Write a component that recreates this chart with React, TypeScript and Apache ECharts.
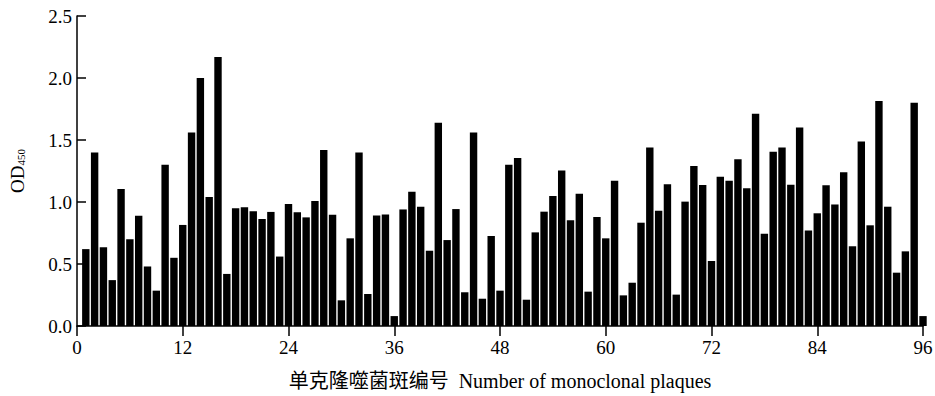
import React, { useEffect, useRef } from "react";
import * as echarts from "echarts";

const plaqueIds: number[] = Array.from({ length: 96 }, (_, i) => i + 1);
const odValues: number[] = [
  0.62, 1.40, 0.635, 0.37, 1.105, 0.70, 0.89, 0.48, 0.285, 1.30,
  0.55, 0.815, 1.56, 2.00, 1.04, 2.17, 0.42, 0.95, 0.957, 0.925,
  0.863, 0.92, 0.56, 0.984, 0.917, 0.876, 1.008, 1.42, 0.898, 0.207,
  0.707, 1.40, 0.258, 0.892, 0.90, 0.08, 0.94, 1.083, 0.962, 0.607,
  1.64, 0.693, 0.943, 0.272, 1.56, 0.22, 0.726, 0.285, 1.30, 1.355,
  0.212, 0.755, 0.922, 1.048, 1.255, 0.852, 1.067, 0.277, 0.879, 0.707,
  1.172, 0.247, 0.349, 0.833, 1.44, 0.93, 1.143, 0.253, 1.003, 1.29,
  1.137, 0.524, 1.204, 1.172, 1.344, 1.11, 1.712, 0.744, 1.406, 1.44,
  1.14, 1.60, 0.771, 0.909, 1.135, 0.98, 1.24, 0.643, 1.487, 0.812,
  1.815, 0.962, 0.43, 0.602, 1.80, 0.08,
];
const xTicks = { min: 0, max: 96, interval: 12 };
const yTicks = { min: 0, max: 2.5, interval: 0.5 };
const xName = "单克隆噬菌斑编号  Number of monoclonal plaques";

const FONT = "'Liberation Serif', 'Noto Sans CJK SC', serif";

export default function App() {
  const ref = useRef<HTMLDivElement>(null);
  useEffect(() => {
    if (!ref.current) return;
    const chart = echarts.init(ref.current, null, { renderer: "svg" });
    chart.setOption({
      animation: false,
      backgroundColor: "#ffffff",
      grid: { left: 77, right: 12, top: 16, bottom: 70, containLabel: false, outerBoundsMode: "none" },
      xAxis: {
        type: "value",
        min: xTicks.min,
        max: xTicks.max,
        interval: xTicks.interval,
        splitLine: { show: false },
        axisLine: { show: true, lineStyle: { color: "#000", width: 1.5 } },
        axisTick: { show: true, inside: false, length: 10, lineStyle: { color: "#000", width: 1.5 } },
        axisLabel: { color: "#000", fontFamily: FONT, fontSize: 19, margin: 12 },
        name: xName,
        nameLocation: "middle",
        nameGap: 45,
        nameTextStyle: { color: "#000", fontFamily: FONT, fontSize: 20 },
      },
      yAxis: {
        type: "value",
        min: yTicks.min,
        max: yTicks.max,
        interval: yTicks.interval,
        splitLine: { show: false },
        axisLine: { show: true, lineStyle: { color: "#000", width: 1.5 } },
        axisTick: { show: true, inside: true, length: 9, lineStyle: { color: "#000", width: 1.5 } },
        axisLabel: {
          color: "#000",
          fontFamily: FONT,
          fontSize: 19,
          margin: 5,
          formatter: (v: number) => v.toFixed(1),
        },
        name: "{a|OD}{b|450}",
        nameLocation: "middle",
        nameRotate: 90,
        nameGap: 50,
        nameTextStyle: {
          rich: {
            a: { fontFamily: FONT, fontSize: 19, color: "#000" },
            b: { fontFamily: FONT, fontSize: 11, color: "#000", padding: [0, 0, -7, 0] },
          },
        },
      },
      series: [
        {
          type: "bar",
          data: plaqueIds.map((id, i) => [id, odValues[i]]),
          barWidth: 7.4,
          itemStyle: { color: "#000" },
        },
      ],
    });
    return () => chart.dispose();
  }, []);
  return (
    <div
      ref={ref}
      style={{ position: "absolute", left: 0, top: 0, width: 935, height: 396 }}
    />
  );
}
